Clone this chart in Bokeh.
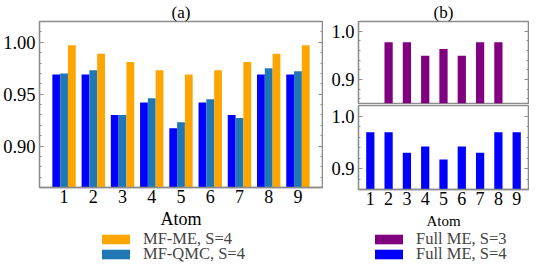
import numpy as np
from bokeh.plotting import figure
from bokeh.layouts import row, column
from bokeh.models import (FixedTicker, SingleIntervalTicker, CustomJSTickFormatter,
                          NumeralTickFormatter, LinearAxis, Legend, LegendItem, Range1d)
from bokeh.embed import file_html
from bokeh.resources import INLINE

# ---------------- data ----------------
atoms = [1, 2, 3, 4, 5, 6, 7, 8, 9]
atom_labels = ["1", "2", "3", "4", "5", "6", "7", "8", "9"]
full_me_s4 = [0.969, 0.969, 0.930, 0.942, 0.917, 0.942, 0.930, 0.969, 0.969]
mf_qmc_s4 = [0.970, 0.973, 0.930, 0.946, 0.923, 0.945, 0.927, 0.975, 0.972]
mf_me_s4 = [0.997, 0.989, 0.981, 0.973, 0.969, 0.973, 0.981, 0.989, 0.997]
atoms_s3 = [2, 3, 4, 5, 6, 7, 8]
full_me_s3 = [0.977, 0.977, 0.949, 0.963, 0.949, 0.977, 0.977]

FONT = "Liberation Serif"
GREY = "#8c8c8c"
C_BLUE = "#0000ff"
C_STEEL = "#1f77b4"
C_ORANGE = "#ffa500"
C_PURPLE = "#800080"


def style_y(p, interval, fmt):
    p.grid.visible = False
    p.outline_line_color = GREY
    p.outline_line_width = 1.3
    for ax in p.yaxis:
        ax.ticker = SingleIntervalTicker(interval=interval, num_minor_ticks=5)
        ax.formatter = NumeralTickFormatter(format=fmt)
        ax.axis_line_color = GREY
        ax.axis_line_width = 1.3
        ax.major_tick_in = 4
        ax.major_tick_out = 0
        ax.minor_tick_in = 2
        ax.minor_tick_out = 0
        ax.major_tick_line_color = GREY
        ax.minor_tick_line_color = GREY
        ax.major_label_text_font = FONT
        ax.major_label_text_font_size = "18.5px"
        ax.major_label_text_color = "black"
        ax.major_label_standoff = 4
    right = LinearAxis(ticker=SingleIntervalTicker(interval=interval, num_minor_ticks=5),
                       formatter=CustomJSTickFormatter(code="return ''"),
                       axis_line_color=GREY, axis_line_width=1.3,
                       major_tick_in=4, major_tick_out=0, minor_tick_in=2, minor_tick_out=0,
                       major_tick_line_color=GREY, minor_tick_line_color=GREY,
                       major_label_standoff=0)
    p.add_layout(right, "right")


def style_x(p, label_size, label_standoff):
    ax = p.xaxis[0]
    ax.ticker = FixedTicker(ticks=atoms)
    ax.major_label_overrides = {a: l for a, l in zip(atoms, atom_labels)}
    ax.axis_line_color = GREY
    ax.axis_line_width = 1.3
    ax.major_tick_in = 0
    ax.major_tick_out = 0
    ax.minor_tick_line_color = None
    ax.major_label_text_font = FONT
    ax.major_label_text_font_size = "18px"
    ax.major_label_text_color = "black"
    ax.major_label_text_line_height = 0.95
    ax.major_label_standoff = 2
    ax.axis_label = "Atom"
    ax.axis_label_text_font = FONT
    ax.axis_label_text_font_size = label_size
    ax.axis_label_text_font_style = "normal"
    ax.axis_label_text_color = "black"
    ax.axis_label_text_line_height = 0.95
    ax.axis_label_standoff = label_standoff


def style_title(p):
    p.title.align = "center"
    p.title.text_font = FONT
    p.title.text_font_size = "17px"
    p.title.text_font_style = "normal"
    p.title.text_color = "black"
    p.title.standoff = 0
    p.title.offset = 0


def legend_fig(width, height, entries, x_loc, y_locs):
    f = figure(width=width, height=height, x_range=Range1d(0, 1), y_range=Range1d(0, 1),
               x_axis_location=None, y_axis_location=None,
               output_backend="svg", toolbar_location=None, min_border=0)
    f.grid.visible = False
    f.outline_line_color = None
    for (label, color, xs_, tops), y_loc in zip(entries, y_locs):
        r = f.vbar(x=xs_, top=tops, bottom=0, width=0.5, fill_color=color,
                   line_color=None, visible=False)
        leg = Legend(items=[LegendItem(label=label, renderers=[r])],
                     location=(x_loc, y_loc), orientation="vertical",
                     glyph_width=35, glyph_height=12, label_standoff=10,
                     label_text_font=FONT, label_text_font_size="16.5px",
                     label_text_line_height=0.8, label_height=14,
                     border_line_color=None, background_fill_alpha=0,
                     padding=0, margin=0, spacing=0)
        f.add_layout(leg, "center")
    return f


# ---------------- panel (a) ----------------
xs = np.array(atoms, dtype=float)
bw = 0.8 / 3
pA = figure(width=323, height=231, title="(a)",
            x_range=Range1d(0.16, 9.84), y_range=Range1d(0.86, 1.02),
            output_backend="svg", toolbar_location=None,
            min_border_left=39, min_border_right=1, min_border_top=20, min_border_bottom=43)
pA.vbar(x=xs - bw, top=full_me_s4, bottom=0, width=bw, fill_color=C_BLUE, line_color=None)
pA.vbar(x=xs, top=mf_qmc_s4, bottom=0, width=bw, fill_color=C_STEEL, line_color=None)
pA.vbar(x=xs + bw, top=mf_me_s4, bottom=0, width=bw, fill_color=C_ORANGE, line_color=None)
style_y(pA, 0.05, "0.00")
style_x(pA, "18px", 3)
style_title(pA)
legA = legend_fig(323, 33, [("MF-ME, S=4", C_ORANGE, atoms, mf_me_s4),
                            ("MF-QMC, S=4", C_STEEL, atoms, mf_qmc_s4)], 59, [15, 0])

# ---------------- panel (b) ----------------
xr = (0.355, 9.645)
pB1 = figure(width=206, height=104, title="(b)",
             x_range=Range1d(*xr), y_range=Range1d(0.85, 1.02),
             x_axis_location=None,
             output_backend="svg", toolbar_location=None,
             min_border_left=35, min_border_right=1, min_border_top=20, min_border_bottom=1)
pB1.vbar(x=atoms_s3, top=full_me_s3, bottom=0, width=0.45, fill_color=C_PURPLE, line_color=None)
style_y(pB1, 0.1, "0.0")
style_title(pB1)

pB2 = figure(width=206, height=127,
             x_range=pB1.x_range, y_range=Range1d(0.86, 1.02),
             output_backend="svg", toolbar_location=None,
             min_border_left=35, min_border_right=1, min_border_top=1, min_border_bottom=42)
pB2.vbar(x=atoms, top=full_me_s4, bottom=0, width=0.45, fill_color=C_BLUE, line_color=None)
style_y(pB2, 0.1, "0.0")
style_x(pB2, "15px", 5)
legB = legend_fig(206, 33, [("Full ME, S=3", C_PURPLE, atoms_s3, full_me_s3),
                            ("Full ME, S=4", C_BLUE, atoms, full_me_s4)], 13, [15, 0])

layout = row(column(pA, legA, spacing=0), column(pB1, pB2, legB, spacing=0), spacing=0)

open("out.html", "w").write(file_html(layout, INLINE))
